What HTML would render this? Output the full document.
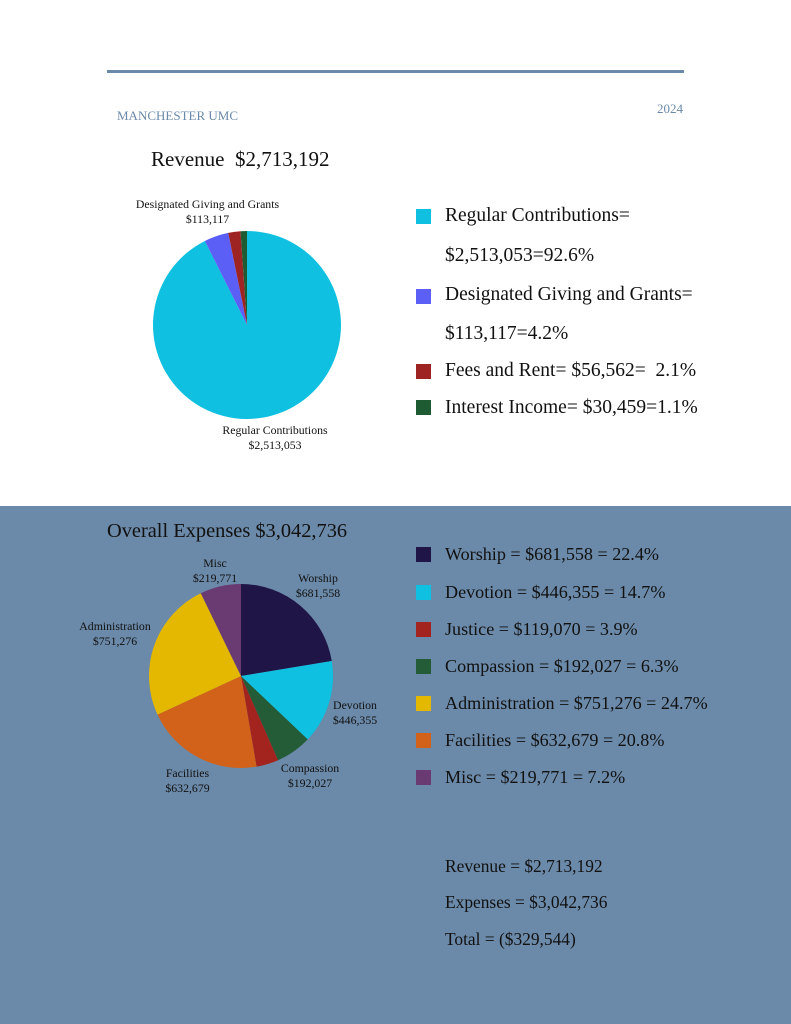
<!DOCTYPE html>
<html><head><meta charset="utf-8"><style>
body{margin:0;width:791px;height:1024px;position:relative;overflow:hidden;background:#fff;font-family:"Liberation Serif",serif;color:#111}
.t{position:absolute;white-space:nowrap}
.bot{position:absolute;left:0;top:506px;width:791px;height:518px;background:#6b89a8}
.sw{position:absolute;width:15px;height:15px}
.lg{font-size:19.5px}
.lg2{font-size:18.1px}
.lab{font-size:11.8px;text-align:center;line-height:15px;position:absolute}
</style></head><body>
<div style="position:absolute;left:107px;top:70px;width:577px;height:3px;background:#6b89a8"></div>
<div class="t" style="left:117px;top:108px;font-size:13px;color:#6b89a8">MANCHESTER UMC</div>
<div class="t" style="left:657px;top:101px;font-size:13px;color:#6b89a8">2024</div>
<div class="t" style="left:151px;top:147px;font-size:21px">Revenue &nbsp;$2,713,192</div>
<div class="bot"></div>
<svg id="s" width="791" height="1024" style="position:absolute;left:0;top:0"></svg>
<div class="lab" style="left:120px;top:197px;width:175px">Designated Giving and Grants<br>$113,117</div>
<div class="lab" style="left:200px;top:423px;width:150px">Regular Contributions<br>$2,513,053</div>

<div class="sw" style="left:416px;top:209px;background:#0fc0e0"></div><div class="t lg" style="left:445px;top:205px">Regular Contributions=</div>
<div class="t lg" style="left:445px;top:245px">$2,513,053=92.6%</div>
<div class="sw" style="left:416px;top:289px;background:#5b5ff5"></div><div class="t lg" style="left:445px;top:284px">Designated Giving and Grants=</div>
<div class="t lg" style="left:445px;top:323px">$113,117=4.2%</div>
<div class="sw" style="left:416px;top:364px;background:#9e2424"></div><div class="t lg" style="left:445px;top:360px">Fees and Rent= $56,562= &nbsp;2.1%</div>
<div class="sw" style="left:416px;top:400px;background:#1e5a32"></div><div class="t lg" style="left:445px;top:397px">Interest Income= $30,459=1.1%</div>

<div class="t" style="left:107px;top:520px;font-size:20.4px">Overall Expenses $3,042,736</div>
<div class="lab" style="left:180px;top:556px;width:70px">Misc<br>$219,771</div>
<div class="lab" style="left:283px;top:571px;width:70px">Worship<br>$681,558</div>
<div class="lab" style="left:68px;top:619px;width:94px">Administration<br>$751,276</div>
<div class="lab" style="left:325px;top:698px;width:60px">Devotion<br>$446,355</div>
<div class="lab" style="left:155px;top:766px;width:65px">Facilities<br>$632,679</div>
<div class="lab" style="left:273px;top:761px;width:74px">Compassion<br>$192,027</div>

<div class="sw" style="left:416px;top:547px;background:#1f1547"></div><div class="t lg2" style="left:445px;top:544px">Worship = $681,558 = 22.4%</div>
<div class="sw" style="left:416px;top:585px;background:#0fc0e0"></div><div class="t lg2" style="left:445px;top:582px">Devotion = $446,355 = 14.7%</div>
<div class="sw" style="left:416px;top:622px;background:#a3241f"></div><div class="t lg2" style="left:445px;top:619px">Justice = $119,070 = 3.9%</div>
<div class="sw" style="left:416px;top:659px;background:#245c37"></div><div class="t lg2" style="left:445px;top:656px">Compassion = $192,027 = 6.3%</div>
<div class="sw" style="left:416px;top:696px;background:#e5b800"></div><div class="t lg2" style="left:445px;top:693px">Administration = $751,276 = 24.7%</div>
<div class="sw" style="left:416px;top:733px;background:#d2621a"></div><div class="t lg2" style="left:445px;top:730px">Facilities = $632,679 = 20.8%</div>
<div class="sw" style="left:416px;top:770px;background:#6a3a73"></div><div class="t lg2" style="left:445px;top:767px">Misc = $219,771 = 7.2%</div>

<div class="t" style="left:445px;top:856px;font-size:17.4px">Revenue = $2,713,192</div>
<div class="t" style="left:445px;top:892px;font-size:17.4px">Expenses = $3,042,736</div>
<div class="t" style="left:445px;top:929px;font-size:17.4px">Total = ($329,544)</div>
<script>
function pie(cx,cy,r,data){var s=document.getElementById('s'),a=0,tot=data.reduce((x,d)=>x+d[0],0),h='';
data.forEach(d=>{var a0=a,a1=a+d[0]/tot*2*Math.PI;a=a1;
var x0=cx+r*Math.sin(a0),y0=cy-r*Math.cos(a0),x1=cx+r*Math.sin(a1),y1=cy-r*Math.cos(a1);
h+='<path d="M'+cx+','+cy+'L'+x0+','+y0+'A'+r+','+r+' 0 '+((a1-a0)>Math.PI?1:0)+' 1 '+x1+','+y1+'Z" fill="'+d[1]+'"/>';});
s.innerHTML+=h;}
pie(247,325,94,[[92.6,'#0fc0e0'],[4.2,'#5b5ff5'],[2.1,'#9e2424'],[1.1,'#1e5a32']]);
pie(241,676,92,[[22.4,'#1f1547'],[14.7,'#0fc0e0'],[6.3,'#245c37'],[3.9,'#a3241f'],[20.8,'#d2621a'],[24.7,'#e5b800'],[7.2,'#6a3a73']]);
</script>
</body></html>
